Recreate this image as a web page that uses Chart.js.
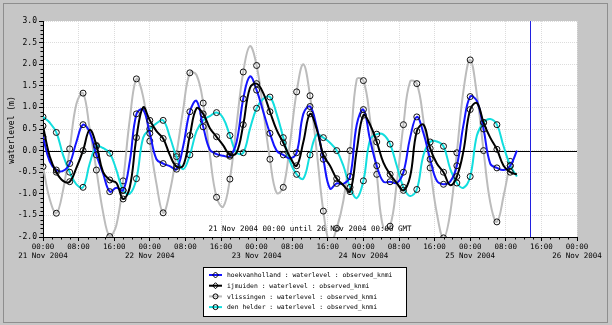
<!DOCTYPE html>
<html>
<head>
<meta charset="utf-8">
<script src="https://cdn.jsdelivr.net/npm/chart.js@4.4.1/dist/chart.umd.min.js"></script>
<style>
  html,body{margin:0;padding:0;background:#c6c6c6;}
  #wrap{position:relative;width:612px;height:325px;overflow:hidden;}
  canvas{position:absolute;left:0;top:0;}
  #frame{position:absolute;left:3px;top:3px;width:603px;height:318px;border:1px solid #8e8e8e;pointer-events:none;}
</style>
</head>
<body>
<div id="wrap"><canvas id="c" width="612" height="325"></canvas><div id="frame"></div></div>
<script>
// time axis: hours since 21 Nov 2004 00:00 GMT
const hours = [0,1.5,3,4.5,6,7.5,9,10.5,12,13.5,15,16.5,18,19.5,21,22.5,24,25.5,27,28.5,
  30,31.5,33,34.5,36,37.5,39,40.5,42,43.5,45,46.5,48,49.5,51,52.5,54,55.5,57,58.5,
  60,61.5,63,64.5,66,67.5,69,70.5,72,73.5,75,76.5,78,79.5,81,82.5,84,85.5,87,88.5,
  90,91.5,93,94.5,96,97.5,99,100.5,102,103.5,105,106.5];

const hoekvanholland = [0.32,-0.25,-0.45,-0.47,-0.3,0.2,0.6,0.42,-0.1,-0.53,
  -0.95,-0.86,-0.92,-0.25,0.85,0.95,0.4,-0.2,-0.3,-0.36,
  -0.43,0.1,0.9,1.15,0.55,0.02,-0.08,-0.12,-0.13,0.2,
  1.2,1.72,1.4,0.9,0.4,0.0,-0.1,-0.18,-0.05,0.85,
  1.02,0.55,-0.2,-0.88,-0.76,-0.77,-0.6,0.6,0.95,0.25,
  -0.35,-0.72,-0.72,-0.75,-0.5,0.3,0.78,0.4,-0.2,-0.7,
  -0.78,-0.72,-0.35,0.6,1.25,1.15,0.5,-0.3,-0.4,-0.45,
  -0.35,0.0];

const ijmuiden = [0.57,-0.13,-0.5,-0.7,-0.72,-0.4,0.0,0.48,0.12,-0.5,
  -0.68,-0.75,-1.12,-0.85,0.3,1.0,0.7,0.45,0.28,-0.1,
  -0.37,-0.35,0.35,0.98,0.85,0.52,0.32,0.12,-0.1,-0.05,
  0.6,1.45,1.55,1.33,0.9,0.48,0.18,-0.15,-0.35,0.2,
  0.85,0.5,-0.1,-0.35,-0.65,-0.8,-0.95,0.0,0.82,0.6,
  0.2,-0.28,-0.55,-0.75,-0.92,-0.6,0.45,0.6,0.05,-0.3,
  -0.5,-0.8,-0.6,0.0,0.95,1.1,0.65,0.3,0.03,-0.35,
  -0.5,-0.55];

const vlissingen = [-0.37,-1.12,-1.45,-0.92,0.04,1.08,1.33,0.5,-0.45,-1.43,
  -1.99,-1.72,-0.7,0.72,1.66,1.25,0.22,-0.77,-1.44,-0.95,
  -0.08,0.95,1.8,1.75,1.1,-0.1,-1.08,-1.3,-0.66,0.6,
  1.82,2.42,1.97,0.93,-0.2,-0.98,-0.85,0.17,1.36,2.0,
  1.27,-0.01,-1.4,-2.15,-1.8,-1.16,0.0,1.65,1.62,0.72,
  -0.55,-1.8,-1.75,-0.75,0.6,1.6,1.55,0.7,-0.4,-1.45,
  -2.02,-1.45,-0.05,1.4,2.1,1.3,0.0,-1.2,-1.65,-1.05,
  -0.25];

const denhelder = [0.78,0.65,0.42,-0.1,-0.5,-0.78,-0.85,-0.3,0.1,0.06,
  -0.06,-0.45,-0.92,-1.0,-0.65,0.3,0.5,0.63,0.7,0.32,
  -0.14,-0.43,-0.1,0.45,0.7,0.8,0.88,0.75,0.35,-0.05,
  -0.05,0.5,0.98,1.2,1.24,0.85,0.3,-0.25,-0.55,-0.65,
  -0.1,0.37,0.3,0.18,0.0,-0.35,-0.85,-1.1,-0.7,0.25,
  0.38,0.37,0.15,-0.35,-0.85,-1.05,-0.9,-0.1,0.2,0.21,
  0.1,-0.42,-0.75,-0.86,-0.6,0.35,0.65,0.73,0.6,0.1,
  -0.35,-0.6];

const seriesNames = ['hoekvanholland : waterlevel : observed_knmi',
  'ijmuiden : waterlevel : observed_knmi',
  'vlissingen : waterlevel : observed_knmi',
  'den helder : waterlevel : observed_knmi'];
const timeLabels = ['00:00','08:00','16:00'];
const dateLabels = ['21 Nov 2004','22 Nov 2004','23 Nov 2004','24 Nov 2004','25 Nov 2004','26 Nov 2004'];
const periodText = '21 Nov 2004 00:00 until 26 Nov 2004 00:00 GMT';
const yTitle = 'waterlevel (m)';
const nowHour = 109.5;

const MONO = "'DejaVu Sans Mono', 'Liberation Mono', monospace";

function pts(vals){ return vals.map((v,i)=>({x:hours[i], y:v})); }
const markerRadius = c => (c.dataIndex % 2 === 0 ? 3 : 0);

function mkDs(label, vals, color, width, order){
  return {label, data: pts(vals), borderColor: color, borderWidth: width,
    tension: 0.4, fill: false, order, clip: 0,
    pointRadius: markerRadius, pointBorderColor: '#111', pointBackgroundColor: 'rgba(0,0,0,0)',
    pointBorderWidth: 1, pointHoverRadius: 0};
}

const colors = ['#1414ff','#000000','#bcbcbc','#12dede'];

const deco = {
  id: 'deco',
  beforeDraw(chart){
    const {ctx, chartArea:a} = chart;
    ctx.save(); ctx.fillStyle = '#ffffff';
    ctx.fillRect(a.left, a.top, a.right-a.left, a.bottom-a.top);
    ctx.restore();
  },
  beforeDatasetsDraw(chart){
    const {ctx, chartArea:a, scales:{x,y}} = chart;
    ctx.save();
    ctx.lineWidth = 1;
    ctx.strokeStyle = '#000';
    const y0 = Math.round(y.getPixelForValue(0)) + 0.5;
    ctx.beginPath(); ctx.moveTo(a.left, y0); ctx.lineTo(a.right, y0); ctx.stroke();
    ctx.strokeStyle = '#2020e0';
    const xn = Math.round(x.getPixelForValue(nowHour)) + 0.5;
    ctx.beginPath(); ctx.moveTo(xn, a.top); ctx.lineTo(xn, a.bottom); ctx.stroke();
    ctx.restore();
  },
  afterDatasetsDraw(chart){
    const {ctx, chartArea:a} = chart;
    ctx.save();
    ctx.font = '7.5px ' + MONO; ctx.fillStyle = '#000';
    ctx.textAlign = 'center'; ctx.textBaseline = 'middle';
    ctx.fillText(periodText, (a.left + a.right)/2, a.bottom - 8);
    ctx.restore();
  },
  afterDraw(chart){
    const {ctx, chartArea:a, scales:{x,y}} = chart;
    ctx.save();
    ctx.strokeStyle = '#000'; ctx.lineWidth = 1;
    ctx.beginPath();
    for (let h = 0; h <= 120; h += 2){
      if (h % 8 === 0) continue;
      const px = Math.round(x.getPixelForValue(h)) + 0.5;
      ctx.moveTo(px, a.bottom); ctx.lineTo(px, a.bottom + 2.5);
    }
    for (let i = -20; i <= 30; i++){
      if (i % 5 === 0) continue;
      const py = Math.round(y.getPixelForValue(i/10)) + 0.5;
      ctx.moveTo(a.left - 2.5, py); ctx.lineTo(a.left, py);
    }
    ctx.stroke();
    ctx.font = '8px ' + MONO; ctx.fillStyle = '#000';
    ctx.textAlign = 'center'; ctx.textBaseline = 'middle';
    ctx.translate(12, 130); ctx.rotate(-Math.PI/2);
    ctx.fillText(yTitle, 0, 0);
    ctx.restore();
    // legend
    ctx.save();
    const lx = 203, ly = 267, lw = 203, lh = 49;
    ctx.fillStyle = '#fff'; ctx.fillRect(lx, ly, lw, lh);
    ctx.strokeStyle = '#000'; ctx.lineWidth = 1;
    ctx.strokeRect(lx + 0.5, ly + 0.5, lw, lh);
    ctx.font = '6.4px ' + MONO; ctx.textBaseline = 'middle'; ctx.textAlign = 'left';
    for (let i = 0; i < 4; i++){
      const cy = ly + 8 + i*10.7;
      ctx.strokeStyle = colors[i]; ctx.lineWidth = 2;
      ctx.beginPath(); ctx.moveTo(lx + 6, cy); ctx.lineTo(lx + 19, cy); ctx.stroke();
      ctx.strokeStyle = '#000'; ctx.lineWidth = 1;
      ctx.beginPath();
      if (i < 2){
        ctx.moveTo(lx + 12.5, cy - 3); ctx.lineTo(lx + 15.5, cy); ctx.lineTo(lx + 12.5, cy + 3); ctx.lineTo(lx + 9.5, cy); ctx.closePath();
      } else {
        ctx.arc(lx + 12.5, cy, 2.5, 0, Math.PI*2);
      }
      ctx.stroke();
      ctx.fillStyle = '#000';
      ctx.fillText(seriesNames[i], lx + 24, cy + 0.5);
    }
    ctx.restore();
  }
};

new Chart(document.getElementById('c'), {
  type: 'line',
  data: {
    datasets: [
      mkDs(seriesNames[0], hoekvanholland, colors[0], 2, 2),
      mkDs(seriesNames[1], ijmuiden, colors[1], 2, 1),
      mkDs(seriesNames[2], vlissingen, colors[2], 2, 4),
      mkDs(seriesNames[3], denhelder, colors[3], 2, 3)
    ]
  },
  options: {
    responsive: false, animation: false, devicePixelRatio: 1,
    layout: {padding: {left: 0, top: 21, right: 35, bottom: 60}},
    plugins: {legend: {display: false}, tooltip: {enabled: false}},
    events: [],
    scales: {
      x: {
        type: 'linear', min: 0, max: 120,
        afterFit(s){ s.height = 28; },
        ticks: {
          stepSize: 8, autoSkip: false, maxRotation: 0, minRotation: 0, padding: 2,
          color: '#000', font: {family: MONO, size: 7.5},
          callback(v){
            const hh = timeLabels[(v % 24) / 8];
            if (v % 24 === 0) return [hh, dateLabels[v/24]];
            return hh;
          }
        },
        grid: {color: '#dcdcdc', tickColor: '#000', tickLength: 4, lineWidth: 1},
        border: {display: true, color: '#000', width: 1, dash: [1,1]}
      },
      y: {
        min: -2, max: 3,
        afterFit(s){ s.width = 43; },
        ticks: {stepSize: 0.5, color: '#000', padding: 2, font: {family: MONO, size: 8},
          callback(v){ return v.toFixed(1); }},
        grid: {color: '#dcdcdc', tickColor: '#000', tickLength: 4, lineWidth: 1},
        border: {display: true, color: '#000', width: 1, dash: [1,1]}
      }
    }
  },
  plugins: [deco]
});
</script>
</body>
</html>
